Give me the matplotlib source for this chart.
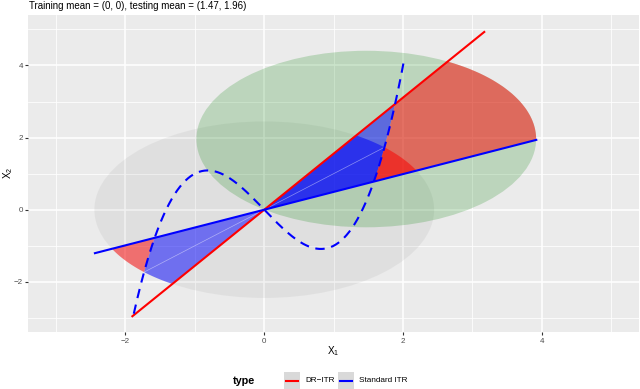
import numpy as np
import matplotlib.pyplot as plt
from matplotlib.patches import Ellipse, Polygon, Rectangle
from matplotlib.lines import Line2D

plt.rcParams['font.family'] = ['Liberation Sans', 'DejaVu Sans']
plt.rcParams['mathtext.default'] = 'regular'

# ---- values ----
train_mean = [0.0, 0.0]
test_mean = [1.47, 1.96]
radius95 = 2.4477            # 95% normal contour
dr_slope = 1.555             # DR-ITR boundary through origin
std_slope = 0.494            # standard ITR boundary through origin
dr_xrange = [-1.90, 3.17]
std_xrange = [-2.44, 3.92]
true_coef = [1.0, 0.0, -2.0, 0.0]   # true boundary x2 = x1^3 - 2 x1
true_xrange = [-1.88, 2.02]
type_labels = ['DR\u2212ITR', 'Standard ITR']
type_colors = ['red', 'blue']
title = 'Training mean = (0, 0), testing mean = (1.47, 1.96)'

W, H = 640, 389
fig = plt.figure(figsize=(W / 100, H / 100), dpi=100)
px = lambda x, y: (x / W, 1 - y / H)

ax = fig.add_axes([28.3 / W, 1 - 332.3 / H, 610.7 / W, 317.3 / H])
ax.set_facecolor('#EBEBEB')
for s in ax.spines.values():
    s.set_visible(False)
ax.set_xlim(-3.4, 5.4)
ax.set_ylim(-3.4, 5.4)
ax.set_xticks([-2, 0, 2, 4])
ax.set_yticks([-2, 0, 2, 4])
ax.set_xticks([-3, -1, 1, 3, 5], minor=True)
ax.set_yticks([-3, -1, 1, 3, 5], minor=True)
ax.grid(which='major', color='white', lw=1.1)
ax.grid(which='minor', color='white', lw=0.55)
ax.set_axisbelow(True)
ax.tick_params(which='major', length=2.3, width=0.8, color='#333333',
               labelcolor='#4D4D4D', labelsize=5.8, pad=1.5)
ax.tick_params(which='minor', length=0)

# ellipses
ax.add_patch(Ellipse(train_mean, 2 * radius95, 2 * radius95, fc='#7F7F7F', alpha=0.1, ec='none', zorder=1))
ax.add_patch(Ellipse(test_mean, 2 * radius95, 2 * radius95, fc='#008000', alpha=0.2, ec='none', zorder=1))

# regions between the two rules, split by the true boundary
a, b = true_coef[0], true_coef[2]
th0 = np.linspace(np.arctan(std_slope), np.arctan(dr_slope), 400)
for center in [train_mean, test_mean]:
    cx, cy = center
    for th in [th0, th0 + np.pi]:
        c, s = np.cos(th), np.sin(th)
        uc = c * cx + s * cy
        disc = uc ** 2 - (cx ** 2 + cy ** 2) + radius95 ** 2
        re = np.clip(np.where(disc >= 0, uc + np.sqrt(np.clip(disc, 0, None)), 0), 0, None)
        if re.max() <= 0:
            continue
        rc = np.sqrt((s - b * c) / (a * c ** 3))
        inner = np.minimum(rc, re)
        pts = np.vstack([[0, 0], np.column_stack([inner * c, inner * s])])
        ax.add_patch(Polygon(pts, closed=True, fc=type_colors[1], alpha=0.5, ec='none', zorder=2))
        m = rc < re
        if m.any():
            outer = np.column_stack([re[m] * c[m], re[m] * s[m]])
            inn = np.column_stack([rc[m] * c[m], rc[m] * s[m]])[::-1]
            ax.add_patch(Polygon(np.vstack([outer, inn]), closed=True, fc=type_colors[0],
                                 alpha=0.5, ec='none', zorder=2))
            if 0 < m.sum() < len(m) and cx == 0 and cy == 0:
                k = np.argmax(m) if not m[0] else np.argmin(m)
                ax.plot([0, rc[k] * c[k]], [0, rc[k] * s[k]], color='white', lw=0.5, alpha=0.45, zorder=2.5)

# rule lines
xs = np.array(dr_xrange)
ax.plot(xs, dr_slope * xs, color=type_colors[0], lw=1.5, zorder=3)
xs = np.array(std_xrange)
ax.plot(xs, std_slope * xs, color=type_colors[1], lw=1.5, zorder=3)
xs = np.linspace(true_xrange[0], true_xrange[1], 300)
ax.plot(xs, np.polyval(true_coef, xs), color='blue', lw=1.5, ls=(0, (4.5, 3.2)), zorder=4)

# text
fig.text(*px(29, 6), title, fontsize=7.0, va='center', ha='left')
fig.text(*px(333.5, 351), 'X$_1$', fontsize=7.2, va='center', ha='center')
fig.text(*px(8, 173), 'X$_2$', fontsize=7.2, va='center', ha='center', rotation=90)

# legend
fig.text(*px(233, 381), 'type', fontsize=7.8, fontweight='bold', va='center', ha='left')
for x0, lab, col in zip([284, 338], type_labels, type_colors):
    fig.add_artist(Rectangle(px(x0, 389), 16 / W, 17 / H, transform=fig.transFigure,
                             fc='#D9D9D9', ec='none'))
    fig.add_artist(Line2D([(x0 + 2) / W, (x0 + 14) / W], [1 - 380.5 / H] * 2,
                          transform=fig.transFigure, color=col, lw=1.5))
    fig.text(*px(x0 + 21, 381), lab, fontsize=5.9, va='center', ha='left')

fig.savefig('out.png', dpi=100)
